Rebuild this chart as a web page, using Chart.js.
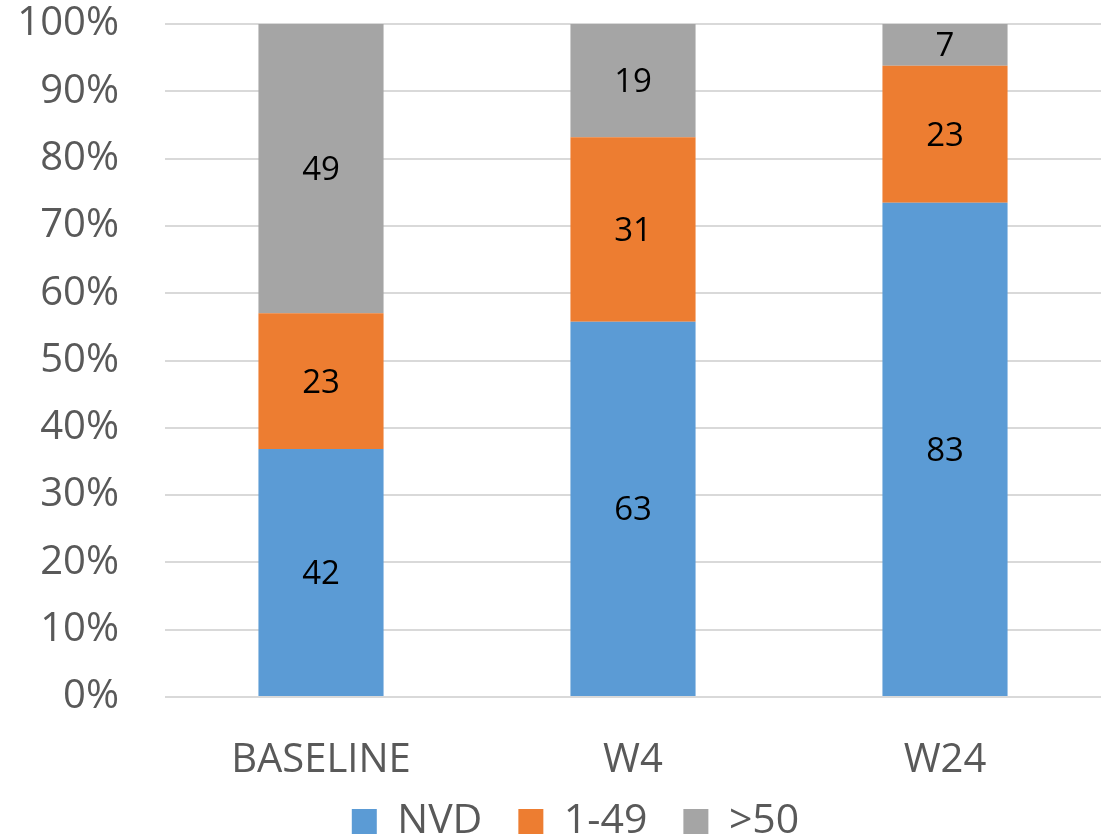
<!DOCTYPE html>
<html>
<head>
<meta charset="utf-8">
<script src="https://cdn.jsdelivr.net/npm/chart.js@4"></script>
<style>
  html, body { margin: 0; padding: 0; background: #fff; overflow: hidden; }
  #wrap { width: 1101px; height: 837px; position: relative; }
  #c { display: block; }
</style>
</head>
<body>
<div id="wrap"><canvas id="c"></canvas></div>
<script>
// Visit groups and patient counts per viral-load class
const categories = ['BASELINE', 'W4', 'W24'];
const nvdCounts = [42, 63, 83];
const lowCounts = [23, 31, 23];
const highCounts = [49, 19, 7];
const seriesNames = ['NVD', '1-49', '>50'];
const tickLabels = ['0%', '10%', '20%', '30%', '40%', '50%', '60%', '70%', '80%', '90%', '100%'];

const counts = [nvdCounts, lowCounts, highCounts];
const totals = categories.map((_, i) => counts.reduce((s, arr) => s + arr[i], 0));
const share = arr => arr.map((v, i) => v / totals[i] * 100);

const colors = ['#5B9BD5', '#ED7D31', '#A5A5A5'];
const FONT = '"Open Sans", "Liberation Sans", sans-serif';
const TEXT = '#595959';

// Writes each segment's count in the middle of its bar piece
const segmentLabels = {
  id: 'segmentLabels',
  afterDatasetsDraw(chart) {
    const ctx = chart.ctx;
    ctx.save();
    ctx.fillStyle = '#000';
    ctx.font = '33px ' + FONT;
    ctx.textAlign = 'center';
    ctx.textBaseline = 'middle';
    chart.data.datasets.forEach((ds, di) => {
      const meta = chart.getDatasetMeta(di);
      meta.data.forEach((el, i) => {
        const y = (el.y + el.base) / 2;
        ctx.fillText(String(counts[di][i]), el.x, y + 2);
      });
    });
    ctx.restore();
  }
};

// Pulls the legend row up under the category labels and centres it on the plot
const legendShift = {
  id: 'legendShift',
  afterLayout(chart) {
    const lg = chart.legend;
    if (lg) {
      lg.top -= 20;
      lg.bottom -= 20;
      lg.left += 25;
      lg.right += 25;
    }
  }
};

new Chart(document.getElementById('c'), {
  type: 'bar',
  data: {
    labels: categories,
    datasets: seriesNames.map((name, k) => ({
      label: name,
      data: share(counts[k]),
      backgroundColor: colors[k],
      borderWidth: 0,
      barPercentage: 0.401,
      categoryPercentage: 1.0
    }))
  },
  options: {
    responsive: true,
    maintainAspectRatio: false,
    animation: false,
    layout: { autoPadding: false, padding: { top: 0, right: 0, bottom: -35, left: 0 } },
    plugins: {
      legend: {
        position: 'bottom',
        labels: {
          color: TEXT,
          font: { family: FONT, size: 41 },
          boxWidth: 25,
          boxHeight: 25,
          padding: 36
        }
      },
      tooltip: { enabled: false }
    },
    scales: {
      x: {
        stacked: true,
        grid: { display: false, drawTicks: false },
        border: { display: false },
        afterFit(scale) {
          scale.height = 88;
          scale.paddingLeft = 0;
          scale.paddingRight = 0;
        },
        ticks: {
          color: TEXT,
          font: { family: FONT, size: 40 },
          padding: 40
        }
      },
      y: {
        stacked: true,
        min: 0,
        max: 100,
        afterFit(scale) {
          scale.width = 165;
          scale.paddingTop = 24;
          scale.paddingBottom = 0;
        },
        afterBuildTicks(scale) {
          scale.ticks = tickLabels.map((_, i) => ({ value: i * 10 }));
        },
        grid: { color: '#D9D9D9', lineWidth: 2, drawTicks: false },
        border: { display: false },
        ticks: {
          color: TEXT,
          font: { family: FONT, size: 40 },
          padding: 46,
          callback: (v, i) => tickLabels[i]
        }
      }
    }
  },
  plugins: [segmentLabels, legendShift]
});
</script>
</body>
</html>
